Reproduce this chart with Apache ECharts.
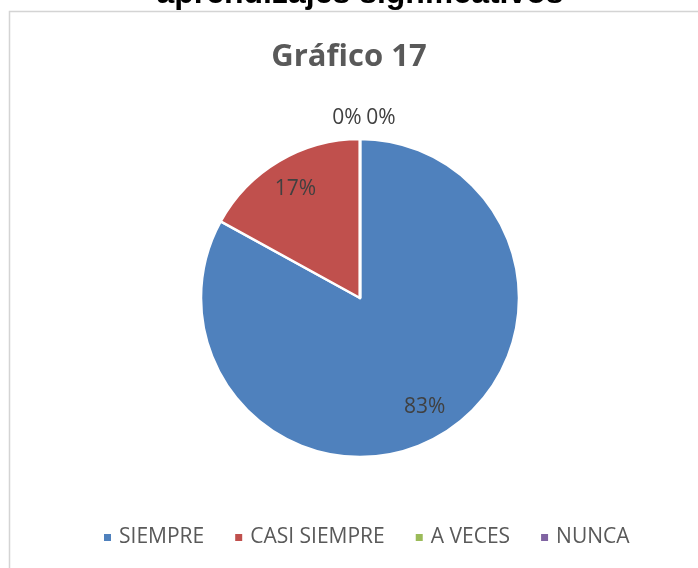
<!DOCTYPE html>
<html>
<head>
<meta charset="utf-8">
<script src="https://cdn.jsdelivr.net/npm/echarts@6/dist/echarts.min.js"></script>
<style>
  html, body { margin: 0; padding: 0; background: #fff; }
  #chart { width: 698px; height: 568px; }
</style>
</head>
<body>
<div id="chart"></div>
<script>
  'use strict'

  var categories = ['SIEMPRE', 'CASI SIEMPRE', 'A VECES', 'NUNCA'];
  var values = [83, 17, 0, 0];
  var colors = ['#4f81bd', '#c0504d', '#9bbb59', '#8064a2'];

  var pieData = categories.map(function (name, i) {
    return { name: name, value: values[i], itemStyle: { color: colors[i] } };
  });

  var chart = echarts.init(document.getElementById('chart'));

  var option = {
    animation: false,
    graphic: [
      {
        type: 'rect',
        shape: { x: 9.5, y: 11.5, width: 720, height: 600 },
        style: { fill: 'none', stroke: '#d4d4d4', lineWidth: 1.5 },
        z: -1
      },
      {
        type: 'text',
        x: 360, y: -6,
        style: {
          text: 'aprendizajes significativos',
          font: 'bold 32px "Liberation Sans", Arial, sans-serif',
          fill: '#000',
          align: 'center',
          verticalAlign: 'middle'
        }
      }
    ],
    title: {
      text: 'Gráfico 17',
      left: 'center',
      top: 37,
      textStyle: {
        fontFamily: 'Open Sans',
        fontSize: 31,
        fontWeight: 'bold',
        color: '#595959'
      }
    },
    legend: {
      bottom: 15,
      left: 97,
      icon: 'rect',
      itemWidth: 9,
      itemHeight: 9,
      itemGap: 29,
      textStyle: { fontFamily: 'Open Sans', fontSize: 21, color: '#595959', padding: [0, 0, 0, 2] },
      data: categories
    },
    series: [
      {
        name: 'Gráfico 17',
        type: 'pie',
        center: [360, 298],
        radius: [0, 159],
        startAngle: 90,
        clockwise: true,
        avoidLabelOverlap: false,
        stillShowZeroSum: true,
        itemStyle: { borderColor: '#fff', borderWidth: 2.5 },
        label: { show: false },
        labelLine: { show: false },
        data: pieData
      },
      {
        name: 'labels',
        type: 'pie',
        silent: true,
        center: [360, 298],
        radius: [89, 159],
        startAngle: 90,
        clockwise: true,
        avoidLabelOverlap: false,
        itemStyle: { color: 'transparent', borderWidth: 0 },
        label: {
          show: true,
          position: 'inside',
          formatter: '{d}%',
          fontFamily: 'Open Sans',
          fontSize: 21,
          color: '#404040'
        },
        labelLine: { show: false },
        labelLayout: function (params) {
          if (params.dataIndex === 2) return { dx: -13, dy: -53 };
          if (params.dataIndex === 3) return { dx: 21, dy: -53 };
          return {};
        },
        data: categories.map(function (name, i) {
          return { name: name, value: values[i] };
        })
      }
    ]
  };

  chart.setOption(option);
</script>
</body>
</html>
